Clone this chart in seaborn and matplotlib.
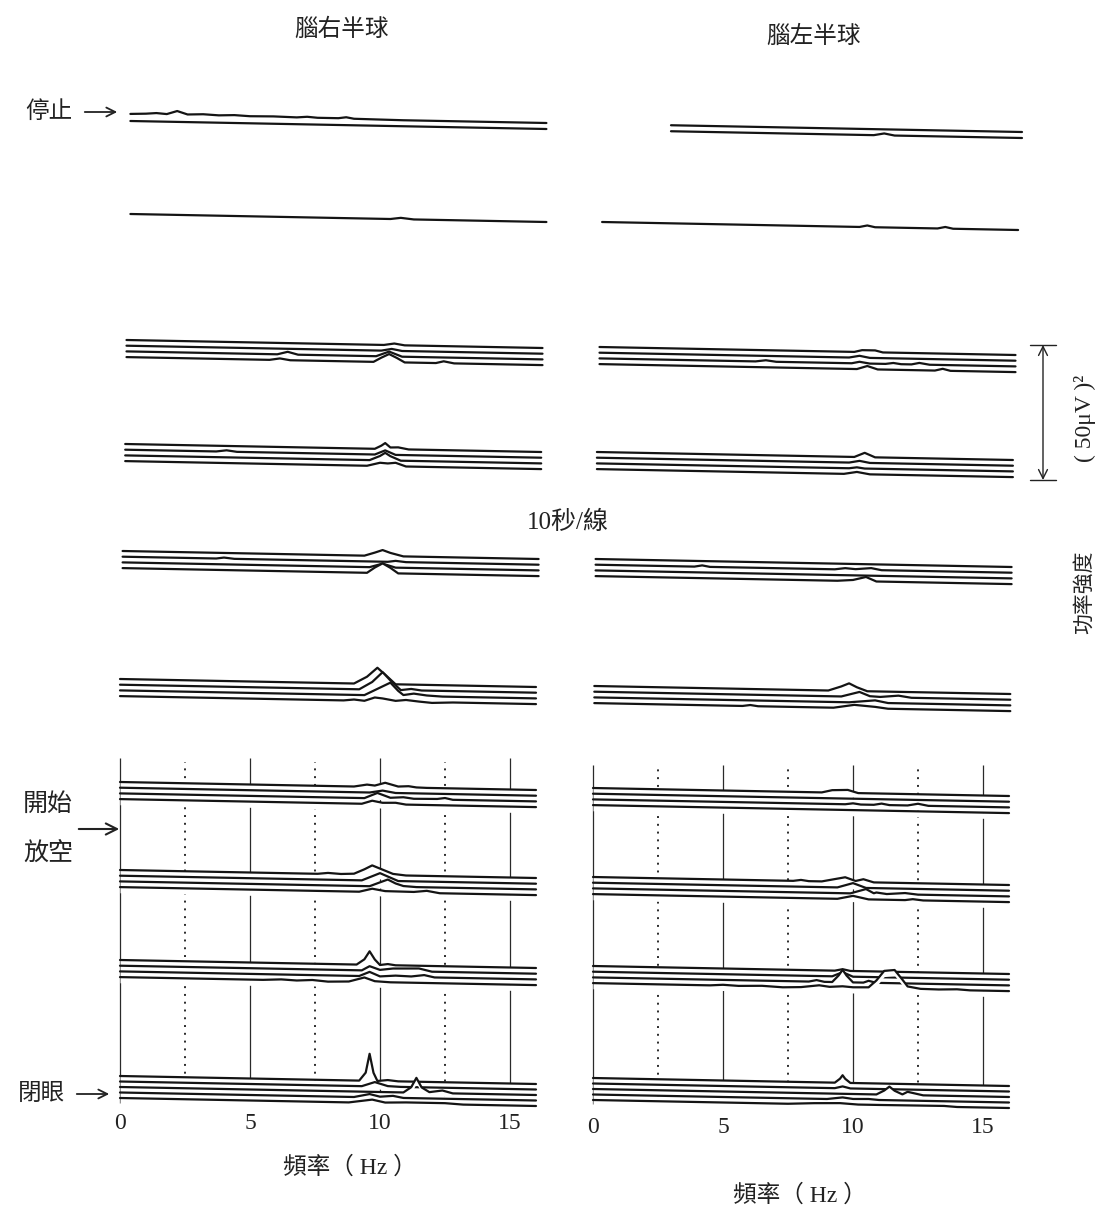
import numpy as np
import matplotlib
matplotlib.use("Agg")
import matplotlib.pyplot as plt
import seaborn as sns

sns.set_theme(style="white")
plt.rcParams["font.family"] = ["Liberation Serif", "Noto Sans CJK TC"]

# ---------------- data ----------------
FREQ_TICKS = [0, 5, 10, 15]
FREQ_DOTTED = [2.5, 7.5, 12.5]
TITLE_R = "腦右半球"
TITLE_L = "腦左半球"

# Each trace: list of (frequency Hz, power (μV)^2 above baseline) knots.
# Right hemisphere (left panel), groups from top (停止) to bottom (閉眼)
R1 = [
    [(0, 0.4), (0.6, 0.6), (1.0, 0.9), (1.4, 0.6), (1.8, 1.8), (2.2, 0.6), (2.8, 0.8), (3.4, 0.5),
     (4.0, 0.7), (4.6, 0.4), (5.5, 0.5), (6.4, 0.3), (6.8, 0.6), (7.2, 0.3), (8.0, 0.3), (8.3, 0.7),
     (8.6, 0.2), (9.5, 0.1), (10.5, 0)],
    [],
]
R2 = [[(10.0, 0), (10.4, 0.5), (10.9, 0)]]
R3 = [
    [(9.9, 0), (10.3, 0.6), (10.7, 0)],
    [(9.8, 0), (10.2, 0.7), (10.6, 0)],
    [(5.8, 0), (6.2, 1.0), (6.6, 0), (9.6, 0), (10.1, 1.8), (10.6, 0)],
    [(5.5, 0), (5.9, 0.6), (6.3, 0), (9.5, 0), (9.8, 1.6), (10.1, 3.0), (10.4, 1.6), (10.7, 0),
     (11.9, 0), (12.2, 0.7), (12.6, 0)],
]
R4 = [
    [(9.6, 0), (9.85, 1.2), (10.0, 2.2), (10.2, 0.6), (10.5, 0.7), (10.9, 0)],
    [(3.5, 0), (3.9, 0.5), (4.3, 0), (9.6, 0), (10.0, 1.6), (10.4, 0)],
    [(9.4, 0), (9.8, 1.6), (10.0, 2.8), (10.2, 1.6), (10.6, 0)],
    [(9.3, 0), (9.8, 1.2), (10.1, 1.0), (10.4, 1.3), (10.8, 0)],
]
R5 = [
    [(9.3, 0), (9.7, 1.2), (10.0, 2.2), (10.3, 1.2), (10.8, 0)],
    [(3.6, 0), (3.9, 0.4), (4.3, 0), (10.2, 0), (10.5, 0.4), (10.9, 0)],
    [(9.5, 0), (10.0, 1.4), (10.5, 0)],
    [(9.4, 0), (9.7, 2.0), (10.0, 3.6), (10.3, 2.0), (10.6, 0)],
]
R6 = [
    [(9.0, 0), (9.5, 2.6), (9.9, 6.0), (10.2, 3.5), (10.6, 0)],
    [(9.2, 0), (9.7, 2.8), (10.1, 6.5), (10.4, 3.5), (10.8, 0), (11.2, 0.5), (11.6, 0)],
    [(9.4, 0), (9.9, 2.4), (10.4, 4.8), (10.7, 1.8), (10.9, 0.3), (11.3, 0.9), (11.8, 0.3), (12.4, 0)],
    [(8.6, 0), (9.0, 0.4), (9.4, 0), (9.8, 1.3), (10.1, 1.0), (10.6, 0.2), (11.0, 0.6), (11.5, 0.1),
     (12.0, -0.3), (12.8, 0)],
]
R7 = [
    [(9.0, 0), (9.5, 0.8), (9.8, 0.5), (10.2, 1.6), (10.7, 0.3), (11.1, 0.5), (11.4, 0.1), (11.8, 0)],
    [(9.6, 0), (10.1, 0.8), (10.6, 0)],
    [(9.4, 0), (9.9, 2.0), (10.4, 0.3), (10.9, 0.6), (11.3, 0.1), (12.2, 0.2), (12.5, 0.6), (12.8, 0)],
    [(9.3, 0), (9.7, 1.2), (10.1, 0.5), (10.6, 0.6), (11.0, 0)],
]
R8 = [
    [(7.6, 0), (8.0, 0.4), (8.5, 0.1), (9.0, 0.3), (9.4, 2.0), (9.7, 3.5), (10.1, 2.0), (10.5, 0.5), (11.0, 0)],
    [(9.3, 0), (9.7, 1.6), (10.0, 2.8), (10.3, 1.6), (10.7, 0)],
    [(9.6, 0), (10.0, 1.5), (10.3, 2.6), (10.6, 1.2), (10.9, 0.3), (11.4, 0)],
    [(9.2, 0), (9.7, 1.2), (10.2, 0.4), (11.3, 0.3), (11.8, 0.8), (12.3, 0)],
]
R9 = [
    [(9.1, 0), (9.4, 2.0), (9.6, 5.0), (9.8, 2.0), (10.0, 0), (10.3, 0.4), (10.6, 0)],
    [(9.3, 0), (9.6, 1.6), (10.0, 0.3), (10.5, 0.9), (11.5, 1.1), (12.0, 0)],
    [(9.2, 0), (9.6, 1.6), (10.0, 0), (10.6, 0.4), (11.2, 0.2), (11.7, 0.8), (12.1, 0)],
    [(5.5, 0), (6.2, 0.3), (6.8, 0), (7.4, 0.3), (8.0, -0.2), (8.8, 0), (9.4, 1.6), (9.8, 0.3), (10.4, 0)],
]
R10 = [
    [(9.2, 0), (9.45, 3.0), (9.6, 10.0), (9.75, 3.0), (9.9, 0), (10.3, 0.4), (10.7, 0)],
    [(9.3, 0), (9.8, 1.6), (10.3, 0.2), (10.8, 0)],
    [(10.9, 0), (11.2, 2.0), (11.4, 5.5), (11.6, 2.0), (11.9, 0.3), (12.4, 1.0), (12.8, 0)],
    [(9.0, 0), (9.6, 1.2), (10.0, 0.3), (10.5, 0.7), (10.9, 0)],
    [(8.8, 0), (9.7, 1.2), (10.2, 0.2), (11.0, 0.4), (12.5, 0.4), (13.2, 0)],
]

# Left hemisphere (right panel)
L1 = [
    [],
    [(10.3, 0), (10.7, 0.7), (11.1, 0)],
]
L2 = [[(9.9, 0), (10.2, 0.6), (10.5, 0), (12.9, 0), (13.2, 0.6), (13.5, 0)]]
L3 = [
    [(9.8, 0), (10.1, 0.7), (10.6, 0.7), (10.9, 0)],
    [(9.6, 0), (10.0, 0.7), (10.4, 0)],
    [(6.0, 0), (6.4, 0.5), (6.8, 0), (9.7, 0), (10.0, 0.6), (10.4, 0), (11.0, 0), (11.3, 0.4), (11.6, 0),
     (12.0, 0), (12.3, 0.6), (12.7, 0)],
    [(9.9, 0), (10.3, 1.2), (10.7, 0), (12.9, 0), (13.2, 0.7), (13.5, 0)],
]
L4 = [
    [(9.9, 0), (10.3, 1.6), (10.7, 0)],
    [(9.7, 0), (10.1, 0.7), (10.5, 0)],
    [(9.7, 0), (10.0, 0.4), (10.3, 0)],
    [(9.5, 0), (10.0, 0.8), (10.5, 0)],
]
L5 = [
    [],
    [(3.8, 0), (4.1, 0.5), (4.4, 0), (9.2, 0), (9.6, 0.5), (10.0, 0.2), (10.6, 0.7), (11.0, 0)],
    [],
    [(9.3, 0), (9.9, 0.4), (10.4, 1.6), (10.8, 0)],
]
L6 = [
    [(9.0, 0), (9.5, 1.6), (9.8, 2.8), (10.1, 1.4), (10.5, 0)],
    [(9.5, 0), (10.2, 1.8), (10.6, 0.3), (11.0, 0.1), (11.7, 0.7), (12.2, 0)],
    [(9.8, 0), (10.8, 0.9), (11.3, 0)],
    [(5.7, 0), (6.0, 0.4), (6.3, 0), (9.2, 0), (10.0, 1.2), (10.8, 0.6), (11.3, 0)],
]
L7 = [
    [(8.8, 0), (9.2, 0.9), (9.8, 1.1), (10.2, 0)],
    [],
    [(9.7, 0), (10.0, 0.4), (10.3, 0), (10.8, 0), (11.1, 0.5), (11.4, 0), (12.1, 0), (12.5, 0.7), (12.9, 0)],
    [],
]
L8 = [
    [(7.7, 0), (8.0, 0.4), (8.3, 0), (8.8, 0), (9.7, 1.7), (10.1, 0.4), (10.4, 1.1), (10.8, 0)],
    [(9.4, 0), (10.0, 1.7), (10.5, 0)],
    [(9.9, 0), (10.5, 1.7), (10.8, 0.2), (10.9, 0.5), (11.3, 0), (12.0, 0.5), (12.5, 0)],
    [(9.4, 0), (10.0, 1.2), (10.6, 0), (12.0, 0), (12.3, 0.4), (12.7, 0)],
]
L9 = [
    [(9.3, 0), (9.6, 0.6), (9.9, 0)],
    [(9.2, 0), (9.6, 1.6), (10.0, 0)],
    [(8.3, 0), (8.6, 0.6), (8.9, 0), (9.2, 0), (9.45, 2.5), (9.6, 4.6), (9.75, 2.5), (10.0, 0),
     (10.4, 0), (10.6, 0.7), (10.9, 0)],
    [(4.5, 0), (5.0, 0.3), (5.6, 0), (6.5, 0.2), (7.3, -0.2), (8.0, 0), (8.7, 0.8), (9.1, 0.3), (9.6, 0.6),
     (10.0, 0.3), (10.6, 0.4), (10.9, 3.0), (11.2, 6.6), (11.6, 7.0), (11.9, 3.5), (12.1, 1.0),
     (12.6, 0.2), (13.3, 0.1), (14.0, 0.3), (14.5, 0)],
]
L10 = [
    [(9.3, 0), (9.5, 1.5), (9.6, 2.8), (9.7, 1.5), (9.9, 0)],
    [(9.3, 0), (9.6, 0.7), (9.9, 0)],
    [(10.9, 0), (11.2, 1.5), (11.4, 3.0), (11.6, 1.5), (11.9, 0.2), (12.1, 1.2), (12.7, 0)],
    [(9.0, 0), (9.6, 0.7), (10.0, 0.2), (10.6, 0.3), (11.0, 0)],
    [(7.5, 0), (8.5, 0.4), (9.5, 0.6), (10.2, 0.2), (11.0, 0.2), (13.5, 0.3), (14.0, 0)],
]

RIGHT_HEMI = [R1, R2, R3, R4, R5, R6, R7, R8, R9, R10]
LEFT_HEMI = [L1, L2, L3, L4, L5, L6, L7, L8, L9, L10]

# ---------------- layout (pixels of the 1100x1212 canvas) ----------------
W, H = 1100, 1212
PX_PER_UNIT = 2.7          # 50 (μV)^2 == 135 px
PX_PER_HZ = 26.0
SLOPE_PX = 8.0             # baseline drop over 16 Hz
F_END = 16.0

PANELS = [
    dict(groups=RIGHT_HEMI, x0=120, box=(100, 40, 565, 1112),
         top=[115, 214, 340, 444, 551, 679, 782, 870, 960, 1076],
         shift=[0.4, 0.4, 0.25, 0.2, 0.1, 0.0, 0.0, 0.0, 0.0, 0.0],
         start=[0] * 10, grid=(758, 1103)),
    dict(groups=LEFT_HEMI, x0=593, box=(575, 40, 1030, 1116),
         top=[124, 222, 347, 452, 559, 686, 788, 877, 966, 1078],
         shift=[0.5, 0.35, 0.25, 0.15, 0.1, 0.05, 0.0, 0.0, 0.0, 0.0],
         start=[2.5] + [0] * 9, grid=(765, 1104)),
]

fig = plt.figure(figsize=(W / 100, H / 100), dpi=100)
fig.patch.set_facecolor("white")

for p in PANELS:
    l, t, r, b = p["box"]
    ax = fig.add_axes([l / W, 1 - b / H, (r - l) / W, (b - t) / H])
    ax.set_facecolor("none")
    ax.set_xlim((l - p["x0"]) / PX_PER_HZ, (r - p["x0"]) / PX_PER_HZ)
    ax.set_ylim(0, (b - t) / PX_PER_UNIT)

    def to_y(px, b=b):
        return (b - px) / PX_PER_UNIT

    # frequency grid in the lower block
    g0, g1 = p["grid"]
    ax.vlines(FREQ_TICKS, to_y(g1), to_y(g0), colors="#2a2a2a", lw=0.9, zorder=1)
    ax.vlines(FREQ_DOTTED, to_y(g1 - 6), to_y(g0 + 4), colors="#2a2a2a", lw=1.4,
              linestyles=(0, (1, 3)), zorder=1)

    for g, traces in enumerate(p["groups"]):
        n = len(traces)
        sp = 6.0 if n == 2 else (5.5 if n >= 5 else 5.7)
        f_start = p["start"][g]
        for i, knots in enumerate(traces):
            pts = list(knots)
            if not pts or pts[0][0] > f_start:
                pts = [(f_start, 0.0)] + pts
            if pts[-1][0] < F_END:
                pts = pts + [(F_END, 0.0)]
            f = np.array([q[0] for q in pts], dtype=float)
            a = np.array([q[1] for q in pts], dtype=float)
            base_px = p["top"][g] + i * sp + SLOPE_PX * f / F_END
            y = to_y(base_px) + a
            x = f + p["shift"][g]
            z = 2 + g * 10 + i
            ax.fill_between(x, y, y - sp / PX_PER_UNIT, color="white", lw=0, zorder=z)
            sns.lineplot(x=x, y=y, ax=ax, color="#141414", lw=1.6, sort=False,
                         estimator=None, zorder=z + 0.5)

    for s in ax.spines.values():
        s.set_visible(False)
    ax.set_yticks([])
    ax.set_xticks(FREQ_TICKS)
    ax.set_xticklabels([str(v) for v in FREQ_TICKS])
    ax.tick_params(axis="x", length=0, labelsize=17, pad=1, colors="#222222")
    ax.set_xlabel("")
    ax.set_ylabel("")

# overlay for annotations in pixel coordinates
ov = fig.add_axes([0, 0, 1, 1])
ov.set_xlim(0, W)
ov.set_ylim(H, 0)
ov.axis("off")
ov.patch.set_visible(False)

tc = "#222222"
ov.text(342, 30, TITLE_R, ha="center", va="center", fontsize=17, color=tc)
ov.text(814, 37, TITLE_L, ha="center", va="center", fontsize=17, color=tc)
ov.text(350, 1168, "頻率（ Hz ）", ha="center", va="center", fontsize=17, color=tc)
ov.text(800, 1195, "頻率（ Hz ）", ha="center", va="center", fontsize=17, color=tc)
ov.text(568, 522, "10秒/線", ha="center", va="center", fontsize=18, color=tc)

ov.text(49, 112, "停止", ha="center", va="center", fontsize=17, color=tc)
ov.annotate("", xy=(120, 112), xytext=(82, 112),
            arrowprops=dict(arrowstyle="->", lw=1.3, color=tc, mutation_scale=16))
ov.text(48, 805, "開始", ha="center", va="center", fontsize=18, color=tc)
ov.text(48, 853, "放空", ha="center", va="center", fontsize=18, color=tc)
ov.annotate("", xy=(122, 829), xytext=(76, 829),
            arrowprops=dict(arrowstyle="->", lw=1.5, color=tc, mutation_scale=20))
ov.text(42, 1094, "閉眼", ha="center", va="center", fontsize=17, color=tc)
ov.annotate("", xy=(112, 1094), xytext=(74, 1094),
            arrowprops=dict(arrowstyle="->", lw=1.3, color=tc, mutation_scale=16))

# power scale bar
ov.annotate("", xy=(1043, 345), xytext=(1043, 480),
            arrowprops=dict(arrowstyle="<->", lw=1.0, color=tc, mutation_scale=16,
                            shrinkA=0, shrinkB=0))
ov.plot([1030, 1056], [345, 345], color=tc, lw=1.0)
ov.plot([1030, 1056], [480, 480], color=tc, lw=1.0)
ov.text(1085, 418, "( 50μV )²", rotation=90, ha="center", va="center", fontsize=17, color=tc)
ov.text(1085, 592, "功率強度", rotation=90, ha="center", va="center", fontsize=15, color=tc)

fig.savefig("out.png", dpi=100, facecolor="white")
